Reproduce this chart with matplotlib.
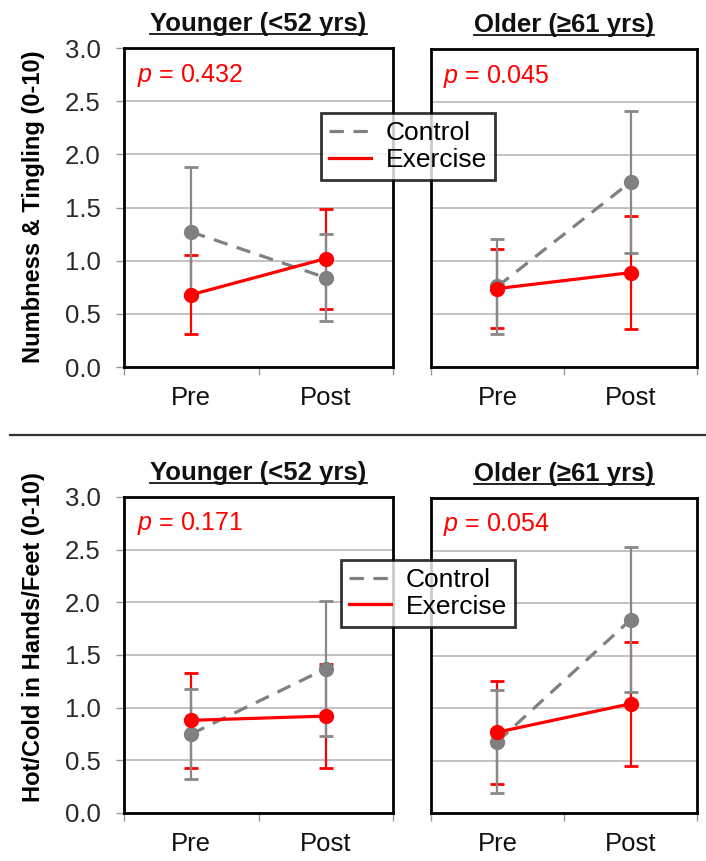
import numpy as np
import matplotlib
matplotlib.use("Agg")
import matplotlib.pyplot as plt
from matplotlib.lines import Line2D

plt.rcParams['font.family'] = ['Liberation Sans', 'DejaVu Sans']
plt.rcParams['mathtext.fontset'] = 'custom'
plt.rcParams['mathtext.it'] = 'Liberation Sans:italic'
plt.rcParams['mathtext.rm'] = 'Liberation Sans'

# data
times = ['Pre', 'Post']
groups = ['Younger (<52 yrs)', 'Older (\u226561 yrs)']
outcomes = ['Numbness & Tingling (0-10)', 'Hot/Cold in Hands/Feet (0-10)']
yticks = [0.0, 0.5, 1.0, 1.5, 2.0, 2.5, 3.0]

numb_young_ctrl = [1.27, 0.84]
numb_young_ctrl_err = [0.61, 0.41]
numb_young_ex = [0.68, 1.02]
numb_young_ex_err = [0.37, 0.47]
numb_old_ctrl = [0.76, 1.745]
numb_old_ctrl_err = [0.45, 0.67]
numb_old_ex = [0.74, 0.89]
numb_old_ex_err = [0.37, 0.53]

hot_young_ctrl = [0.75, 1.37]
hot_young_ctrl_err = [0.43, 0.64]
hot_young_ex = [0.88, 0.92]
hot_young_ex_err = [0.45, 0.49]
hot_old_ctrl = [0.68, 1.84]
hot_old_ctrl_err = [0.49, 0.69]
hot_old_ex = [0.77, 1.04]
hot_old_ex_err = [0.49, 0.59]

pvals = [['0.432', '0.045'], ['0.171', '0.054']]

panels = [
    [(numb_young_ctrl, numb_young_ctrl_err, numb_young_ex, numb_young_ex_err),
     (numb_old_ctrl, numb_old_ctrl_err, numb_old_ex, numb_old_ex_err)],
    [(hot_young_ctrl, hot_young_ctrl_err, hot_young_ex, hot_young_ex_err),
     (hot_old_ctrl, hot_old_ctrl_err, hot_old_ex, hot_old_ex_err)],
]

RED = '#ff0000'
GRAY = '#808080'
W, H = 706, 861

fig = plt.figure(figsize=(W / 100, H / 100), dpi=100)

# axes boxes in pixels: left, top, right, bottom
boxes = [[(124, 48, 393, 367), (431, 49, 697, 367)],
         [(124, 497, 393, 813), (431, 498, 697, 813)]]

x = np.array([0.5, 1.5])
titles = []
for r in range(2):
    for c in range(2):
        l, t, rr, b = boxes[r][c]
        ax = fig.add_axes([l / W, 1 - b / H, (rr - l) / W, (b - t) / H])
        ctrl, ctrl_err, ex, ex_err = panels[r][c]

        ax.errorbar(x, ex, yerr=ex_err, fmt='none', ecolor=RED, elinewidth=1.6,
                    capsize=5, capthick=2, zorder=2)
        ax.errorbar(x, ctrl, yerr=ctrl_err, fmt='none', ecolor='#888888', elinewidth=1.6,
                    capsize=5, capthick=2, zorder=3)
        ax.plot(x, ctrl, color=GRAY, lw=2.3, dashes=(4.5, 3), marker='o', ms=10,
                zorder=4, label='Control')
        ax.plot(x, ex, color=RED, lw=2.3, marker='o', ms=10, zorder=5, label='Exercise')

        ax.set_xlim(0, 2)
        ax.set_ylim(0, 3)
        ax.set_yticks(yticks)
        ax.yaxis.grid(True, color='#b3b3b3', lw=1.1)
        ax.set_axisbelow(True)
        for s in ax.spines.values():
            s.set_color('black')
            s.set_linewidth(2)

        ax.set_xticks(x)
        ax.set_xticklabels(times, fontsize=18.5, color='#111111')
        ax.set_xticks([0, 1, 2], minor=True)
        ax.tick_params(axis='x', which='major', length=0, pad=14)
        ax.tick_params(axis='x', which='minor', length=6, color='#999999', width=1)
        if c == 0:
            ax.set_yticklabels([f'{v:.1f}' for v in yticks], fontsize=18.5, color='#2a2a2a')
            ax.tick_params(axis='y', length=6, color='#999999', width=1, pad=11)
        else:
            ax.tick_params(axis='y', length=0, labelleft=False)

        ax.text(0.05 if c == 0 else 0.045, 0.915, r'$\it{p}$ = ' + pvals[r][c],
                transform=ax.transAxes, color=RED, fontsize=18, ha='left', va='center')

        tt = ax.annotate(groups[c], xy=(0.5, 1), xycoords='axes fraction',
                         xytext=(0, 12), textcoords='offset points',
                         ha='center', va='baseline', fontsize=18.5, fontweight='bold',
                         color='#111111')
        titles.append((tt, ax))

        if c == 1:
            h, lab = ax.get_legend_handles_labels()
            if r == 0:
                anchor = (408 / W, 1 - 146.5 / H)
            else:
                anchor = (428 / W, 1 - 593.4 / H)
            leg = fig.legend(h, lab, loc='center', bbox_to_anchor=anchor, fontsize=19,
                             frameon=True, fancybox=False, edgecolor='black',
                             handlelength=1.6, handletextpad=0.55, labelspacing=0.1,
                             borderpad=0.3, borderaxespad=0)
            leg.get_frame().set_linewidth(2)
            for lh in leg.legend_handles:
                lh.set_marker('None')

# y axis labels
fig.text(34 / W, 1 - 206.5 / H, outcomes[0], rotation=90, ha='center', va='center',
         fontsize=17, fontweight='bold')
fig.text(34 / W, 1 - 637.5 / H, outcomes[1], rotation=90, ha='center', va='center',
         fontsize=17, fontweight='bold')

# separator between the two rows
fig.add_artist(Line2D([10 / W, 1], [1 - 435 / H, 1 - 435 / H], color='#333333', lw=1.6))

# underline the panel titles
fig.canvas.draw()
rend = fig.canvas.get_renderer()
for tt, ax in titles:
    bb = tt.get_window_extent(rend)
    ybase = ax.bbox.y1 + 12 * fig.dpi / 72 - 3
    fig.add_artist(Line2D([bb.x0 / W, bb.x1 / W], [ybase / H, ybase / H],
                          color='#111111', lw=1.3))

fig.savefig('out.png', dpi=100)
